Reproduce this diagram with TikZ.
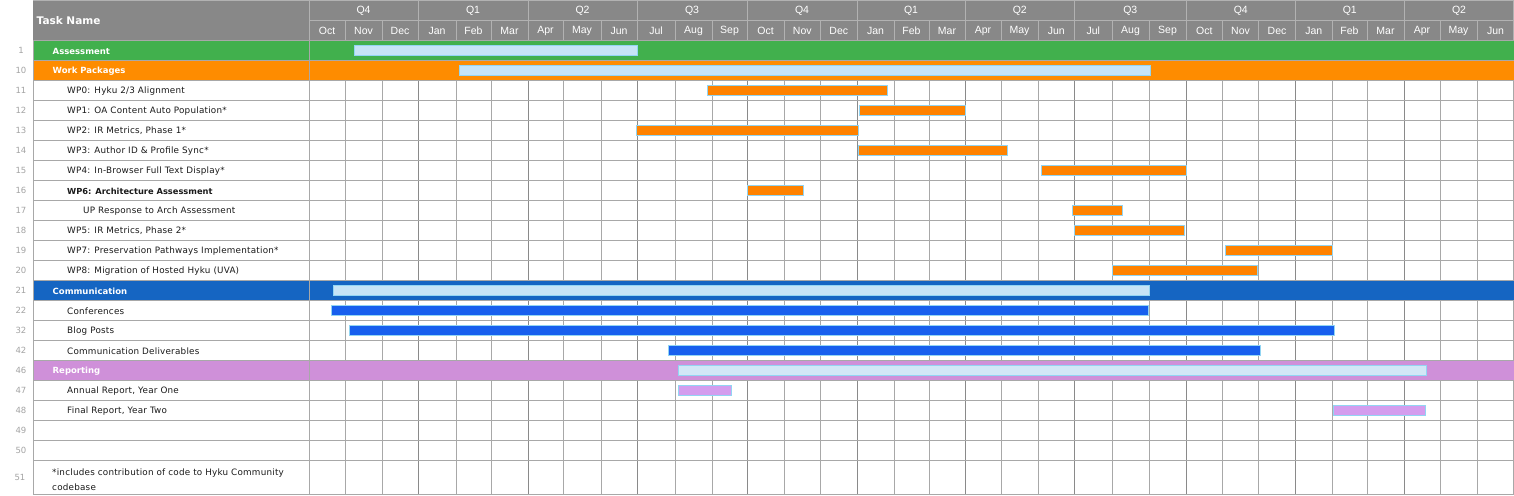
\documentclass[tikz,border=0pt]{standalone}
\usepackage{fontspec}
\setmainfont{DejaVu Sans}
\newfontfamily\hdrfont{Liberation Sans}
\newfontfamily\spacedfont[LetterSpace=2.5]{DejaVu Sans}
\definecolor{hdrgray}{HTML}{888888}
\definecolor{hdrline}{HTML}{B2B2B2}
\definecolor{mline}{HTML}{A8A8A8}
\definecolor{qline}{HTML}{8A8A8A}
\definecolor{rgreen}{HTML}{41B04D}
\definecolor{rorange}{HTML}{FE8C00}
\definecolor{rblue}{HTML}{1565C2}
\definecolor{rpurple}{HTML}{CF90D9}
\definecolor{borange}{HTML}{FF8200}
\definecolor{bblue}{HTML}{175FEE}
\definecolor{bpurple}{HTML}{D49DEE}
\definecolor{sumfill}{HTML}{C6E4F6}
\definecolor{sumfillb}{HTML}{D2E7F6}
\definecolor{barline}{HTML}{92D5F3}
\definecolor{numgray}{HTML}{A4A4A4}
\definecolor{tasktext}{HTML}{1A1A1A}
\tikzset{
  hdrtext/.style={text=white,font=\hdrfont\fontsize{10.5}{12}\selectfont,inner sep=0pt},
  numtext/.style={text=numgray,font=\fontsize{8.5}{10}\selectfont,inner sep=0pt},
  tasktxt/.style={text=tasktext,font=\spacedfont\fontsize{8.8}{10}\selectfont,anchor=west,inner sep=0pt},
  sumtxt/.style={text=white,font=\bfseries\fontsize{8.5}{10}\selectfont,anchor=west,inner sep=0pt},
  barbox/.style={draw=barline,line width=0.8pt},
}
\begin{document}
\begin{tikzpicture}[x=1pt,y=-1pt]
\useasboundingbox (0,0) rectangle (1514,495);
\fill[white] (0,0) rectangle (1514,495);
% header
\fill[hdrgray] (33,0) rectangle (1514,40.5);
\draw[hdrline,line width=0.9pt] (309,20.5) -- (1514,20.5);
\draw[hdrline,line width=0.9pt] (33,0.5) -- (1514,0.5);
\node[text=white,font=\bfseries\fontsize{10.5}{12}\selectfont,anchor=west,inner sep=0pt] (taskname) at (36.5,20.5) {Task Name};
% month columns
\foreach \a/\b/\n [count=\i] in {309/345/Oct,345/382/Nov,382/418/Dec,418/456/Jan,456/491/Feb,491/528/Mar,528/563/Apr,563/601/May,601/637/Jun,637/675/Jul,675/712/Aug,712/747/Sep,747/784/Oct,784/820.5/Nov,820.5/857/Dec,857/894/Jan,894/929/Feb,929/965/Mar,965/1001/Apr,1001/1038/May,1038/1074.5/Jun,1074.5/1112/Jul,1112/1149/Aug,1149/1186/Sep,1186/1222.5/Oct,1222.5/1258.5/Nov,1258.5/1295.5/Dec,1295.5/1332/Jan,1332/1367/Feb,1367/1404/Mar,1404/1440/Apr,1440/1477/May,1477/1514/Jun}{
  \node[hdrtext] (mon\i) at ({(\a+\b)/2},30.8) {\n};
  \draw[hdrline,line width=0.9pt] (\b,20.5) -- (\b,40.5);
  \draw[mline,line width=0.9pt] (\b,40.5) -- (\b,494);
}
% quarters
\foreach \a/\b/\n [count=\i] in {309/418/Q4,418/528/Q1,528/637/Q2,637/747/Q3,747/857/Q4,857/965/Q1,965/1074.5/Q2,1074.5/1186/Q3,1186/1295.5/Q4,1295.5/1404/Q1,1404/1514/Q2}{
  \node[hdrtext] (qtr\i) at ({(\a+\b)/2},11) {\n};
  \draw[hdrline,line width=0.9pt] (\a,0.5) -- (\a,40.5);
  \draw[qline,line width=0.9pt] (\a,40.5) -- (\a,494);
}
\draw[hdrline,line width=0.9pt] (1513.5,0.5) -- (1513.5,40.5);
\draw[mline,line width=0.9pt] (1513.5,40.5) -- (1513.5,494);
% summary rows
\foreach \i/\c in {0/rgreen,1/rorange,12/rblue,16/rpurple}{
  \fill[\c] (33,{40.5+20*\i}) rectangle (1514,{60.5+20*\i});
}
% horizontal row lines
\foreach \i in {0,...,21}{
  \draw[mline,line width=0.9pt] (33,{40.5+20*\i}) -- (1514,{40.5+20*\i});
}
\draw[mline,line width=0.9pt] (33,494) -- (1514,494);
\draw[mline,line width=0.9pt] (33,40.5) -- (33,494);
\draw[mline,line width=0.9pt] (309,40.5) -- (309,494);
% row numbers
\foreach \n [count=\i from 0] in {1,10,11,12,13,14,15,16,17,18,19,20,21,22,32,42,46,47,48,49,50}{
  \node[numtext] (num\n) at (21,{50.7+20*\i}) {\n};
}
\node[numtext] (num51) at (20,477.5) {51};
% summary labels and bars
\foreach \i/\t/\x/\y/\f in {0/Assessment/354/637.5/sumfill,1/Work Packages/459/1150/sumfill,12/Communication/333/1149/sumfill,16/Reporting/678.5/1426.5/sumfillb}{
  \node[sumtxt] (sum\i) at (52.5,{51+20*\i}) {\t};
  \path[barbox,fill=\f] (\x,{45.6+20*\i}) rectangle (\y,{55.8+20*\i});
}
% task rows
\foreach \i/\t/\x/\y/\c in {
 2/{WP0: Hyku 2/3 Alignment}/707/887.5/borange,
 3/{WP1: OA Content Auto Population*}/859.5/965.5/borange,
 4/{WP2: IR Metrics, Phase 1*}/636.5/858.5/borange,
 5/{WP3: Author ID \& Profile Sync*}/858.5/1007.5/borange,
 6/{WP4: In-Browser Full Text Display*}/1041/1186/borange,
 9/{WP5: IR Metrics, Phase 2*}/1074.5/1184.5/borange,
 10/{WP7: Preservation Pathways Implementation*}/1225.5/1332/borange,
 11/{WP8: Migration of Hosted Hyku (UVA)}/1112.5/1257/borange,
 13/{Conferences}/331.5/1148.5/bblue,
 14/{Blog Posts}/349.5/1334.5/bblue,
 15/{Communication Deliverables}/668.5/1260.5/bblue,
 17/{Annual Report, Year One}/678.5/731.5/bpurple,
 18/{Final Report, Year Two}/1333.5/1425.5/bpurple}{
  \node[tasktxt] (task\i) at (67,{51+20*\i}) {\t};
  \path[barbox,fill=\c] (\x,{45.6+20*\i}) rectangle (\y,{55.8+20*\i});
}
\node[tasktxt,font=\bfseries\fontsize{8.3}{10}\selectfont] (task7) at (67,{51+20*7}) {WP6: Architecture Assessment};
\path[barbox,fill=borange] (747.5,{45.6+20*7}) rectangle (803.5,{55.8+20*7});
\node[tasktxt] (task8) at (83,{51+20*8}) {UP Response to Arch Assessment};
\path[barbox,fill=borange] (1072.5,{45.6+20*8}) rectangle (1122.5,{55.8+20*8});
% footnote
\node[tasktxt] (foot1) at (52,473) {*includes contribution of code to Hyku Community};
\node[tasktxt] (foot2) at (52,487.5) {codebase};
\end{tikzpicture}
\end{document}
